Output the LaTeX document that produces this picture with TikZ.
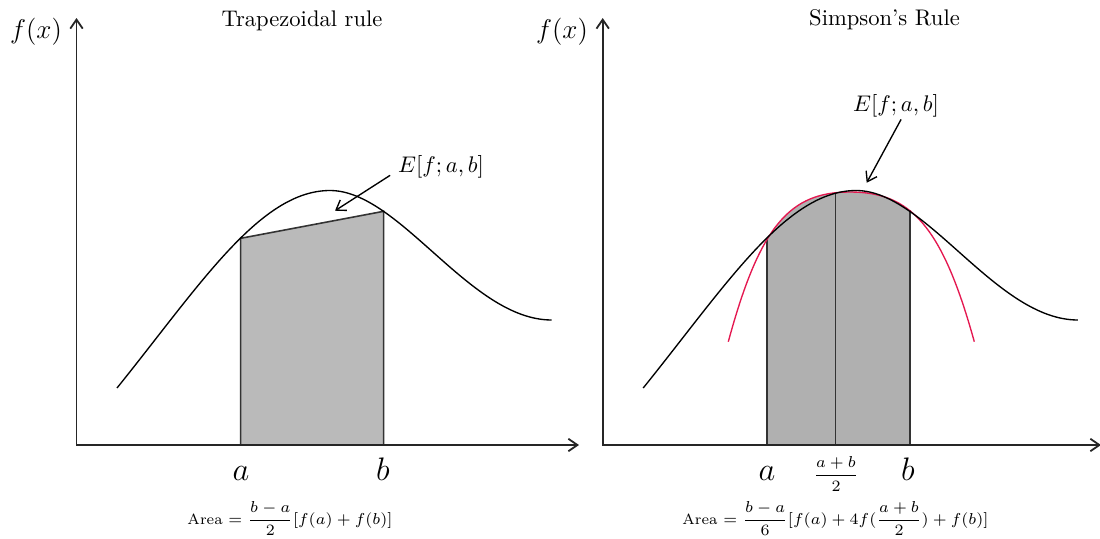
\documentclass[tikz,border=0pt]{standalone}
\usepackage{amsmath,amssymb}
\usepackage{xcolor}
\usepackage{tikz}
\usetikzlibrary{arrows.meta}

\definecolor{rojo}{RGB}{228,24,80}

\begin{document}
\begin{tikzpicture}[
  x=0.4425pt, y=-0.4425pt,
  punta/.tip={Straight Barb[length=4pt,width=5.5pt]},
  flecha/.style={-punta, line width=0.6pt},
  eje/.style={punta-punta, line width=0.8pt, draw=black!85},
  curva/.style={line width=0.6pt},
  borde/.style={line width=0.7pt, draw=black!80},
  punto/.style={font=\Large, anchor=base},
  titulo/.style={anchor=base},
  formula/.style={font=\fontsize{6.6}{8}\selectfont, anchor=base}
]
  \useasboundingbox (0,0) rectangle (1100,538);

  % regla del trapecio
  \coordinate (yL) at (76.5,18);
  \coordinate (oL) at (76.5,445);
  \coordinate (xL) at (579,445);
  \coordinate (aL) at (240.7,445);
  \coordinate (bL) at (383.7,445);
  \coordinate (faL) at (240.7,238.3);
  \coordinate (fbL) at (383.7,211.3);
  \coordinate (tipL) at (335,210.7);

  \filldraw[borde, fill=black!27] (aL) -- (faL) -- (fbL) -- (bL) -- cycle;
  \draw[eje] (yL) -- (oL) -- (xL);

  \node[titulo] (titL) at (302,26) {Trapezoidal rule};
  \node[anchor=base, font=\large] (fxL) at (36,38.5) {$f(x)$};
  \node[punto] (la) at (241,480) {$a$};
  \node[punto] (lb) at (383,480) {$b$};
  \node[anchor=base] (eL) at (441,172) {$E[f;a,b]$};
  \draw[flecha] (eL.190) -- (tipL);
  \node[formula] (areaL) at (290,524) {Area $=\dfrac{b-a}{2}[f(a)+f(b)]$};

  % regla de Simpson
  \coordinate (yR) at (602.7,18);
  \coordinate (oR) at (602.7,445);
  \coordinate (xR) at (1101,445);
  \coordinate (aR) at (767.2,445);
  \coordinate (mR) at (835.7,445);
  \coordinate (bR) at (910,445);
  \coordinate (faR) at (767.2,238.3);
  \coordinate (fmR) at (835.7,193.3);
  \coordinate (fbR) at (910,210.3);
  \coordinate (tipR) at (866.7,182.7);

  \begin{scope}
    \clip (aR) rectangle (910,0);
    \fill[black!31] (728.3,445) -- (728.3,341.7)
      .. controls (760,225) and (790,192) .. (850,192)
      .. controls (910,192) and (942,225) .. (974.3,341.7) -- (974.3,445) -- cycle;
  \end{scope}
  \draw[borde] (aR) -- (faR) (mR) -- (fmR) (bR) -- (fbR);
  \draw[eje] (yR) -- (oR) -- (xR);
  \draw[curva, rojo] (728.3,341.7)
    .. controls (760,225) and (790,192) .. (850,192)
    .. controls (910,192) and (942,225) .. (974.3,341.7);

  \node[titulo] (titR) at (884.5,25.5) {Simpson's Rule};
  \node[anchor=base, font=\large] (fxR) at (562,38.5) {$f(x)$};
  \node[punto] (ra) at (767,480) {$a$};
  \node[punto] (rb) at (908,480) {$b$};
  \node[font=\fontsize{7}{8}\selectfont] (rm) at (836,474) {$\dfrac{a+b}{2}$};
  \node[anchor=base, inner sep=1pt] (eR) at (896,111) {$E[f;a,b]$};
  \draw[flecha] (eR.290) -- (tipR);
  \node[formula] (areaR) at (835.5,524) {Area $=\dfrac{b-a}{6}[f(a)+4f(\dfrac{a+b}{2})+f(b)]$};

  % la funcion en los dos paneles
  \foreach \dx in {0,526.2}
    \draw[curva, shift={(\dx,0)}] (117,388)
      .. controls (200,285) and (260,190.5) .. (330,190.5)
      .. controls (400,190.5) and (470,320) .. (551.7,320);
\end{tikzpicture}
\end{document}
